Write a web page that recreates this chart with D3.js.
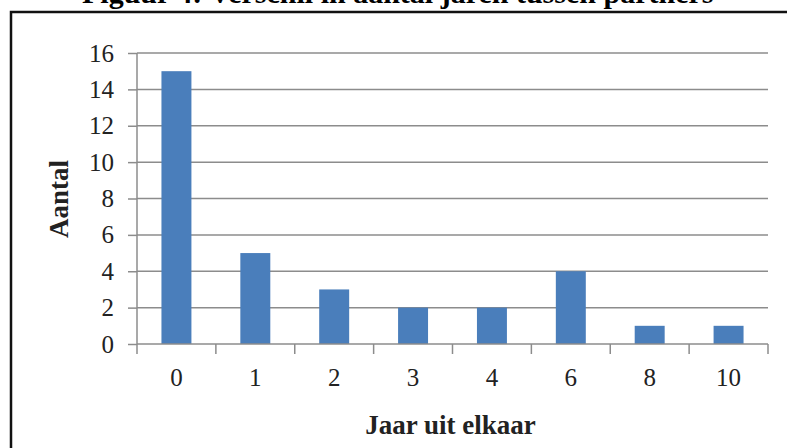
<!DOCTYPE html>
<html>
<head>
<meta charset="utf-8">
<script src="https://cdn.jsdelivr.net/npm/d3@7"></script>
<style>
  body { margin: 0; background: #fff; }
  svg { display: block; }
  .tick text { font-family: "Liberation Serif", "Times New Roman", serif; font-size: 25px; fill: #222; }
</style>
</head>
<body>
<svg id="chart" width="787" height="448"></svg>
<script>
// values
const categories = ["0", "1", "2", "3", "4", "6", "8", "10"];
const counts = [15, 5, 3, 2, 2, 4, 1, 1];
const yTicks = [0, 2, 4, 6, 8, 10, 12, 14, 16];

const svg = d3.select("#chart");
const margin = {left: 137, right: 19, top: 53, bottom: 104};
const width = 787 - margin.left - margin.right;
const height = 448 - margin.top - margin.bottom;

// caption above the frame, cut off by the top edge as in the source
svg.append("text")
  .attr("x", 82)
  .attr("y", 3)
  .attr("font-family", "Liberation Serif, serif")
  .attr("font-weight", "bold")
  .attr("font-size", 30)
  .text("Figuur 4: Verschil in aantal jaren tussen partners");

// frame
svg.append("rect")
  .attr("x", 11).attr("y", 12)
  .attr("width", 800).attr("height", 460)
  .attr("fill", "#fff")
  .attr("stroke", "#111")
  .attr("stroke-width", 2.5);

const g = svg.append("g")
  .attr("transform", `translate(${margin.left},${margin.top})`);

const x = d3.scaleBand()
  .domain(categories)
  .range([0, width])
  .paddingInner(0.62)
  .paddingOuter(0.31);

const y = d3.scaleLinear()
  .domain([0, 16])
  .range([height, 0]);

// gridlines
g.append("g")
  .selectAll("line")
  .data(yTicks.slice(1))
  .enter()
  .append("line")
  .attr("x1", 0)
  .attr("x2", width)
  .attr("y1", d => y(d))
  .attr("y2", d => y(d))
  .attr("stroke", "#8c8c8c")
  .attr("stroke-width", 1.5);

// bars
g.append("g")
  .selectAll("rect")
  .data(counts)
  .enter()
  .append("rect")
  .attr("x", (d, i) => x(categories[i]))
  .attr("y", d => y(d))
  .attr("width", x.bandwidth())
  .attr("height", d => height - y(d))
  .attr("fill", "#4a7ebb");

// y axis
const yAxis = g.append("g")
  .call(d3.axisLeft(y).tickValues(yTicks).tickSize(9).tickPadding(14));
yAxis.selectAll("line, path").attr("stroke", "#8c8c8c").attr("stroke-width", 1.5);
yAxis.select(".domain").attr("d", `M0,0V${height}`);

// x axis: ticks on band boundaries
const xAxis = g.append("g")
  .attr("transform", `translate(0,${height})`);
xAxis.append("line")
  .attr("x1", 0).attr("x2", width)
  .attr("stroke", "#8c8c8c").attr("stroke-width", 1.5);
const step = x.step();
xAxis.selectAll("line.tk")
  .data(d3.range(categories.length + 1))
  .enter()
  .append("line")
  .attr("class", "tk")
  .attr("x1", i => i * step)
  .attr("x2", i => i * step)
  .attr("y1", 0)
  .attr("y2", 10)
  .attr("stroke", "#8c8c8c")
  .attr("stroke-width", 1.5);
xAxis.selectAll("text")
  .data(categories)
  .enter()
  .append("text")
  .attr("x", d => x(d) + x.bandwidth() / 2)
  .attr("y", 42)
  .attr("text-anchor", "middle")
  .attr("font-family", "Liberation Serif, serif")
  .attr("font-size", 25)
  .attr("fill", "#222")
  .text(d => d);

// axis titles
svg.append("text")
  .attr("x", margin.left + width / 2 - 2)
  .attr("y", 434)
  .attr("text-anchor", "middle")
  .attr("font-family", "Liberation Serif, serif")
  .attr("font-weight", "bold")
  .attr("font-size", 27)
  .attr("fill", "#222")
  .text("Jaar uit elkaar");

svg.append("text")
  .attr("transform", "translate(68,199) rotate(-90)")
  .attr("text-anchor", "middle")
  .attr("font-family", "Liberation Serif, serif")
  .attr("font-weight", "bold")
  .attr("font-size", 27)
  .attr("fill", "#222")
  .text("Aantal");
</script>
</body>
</html>
